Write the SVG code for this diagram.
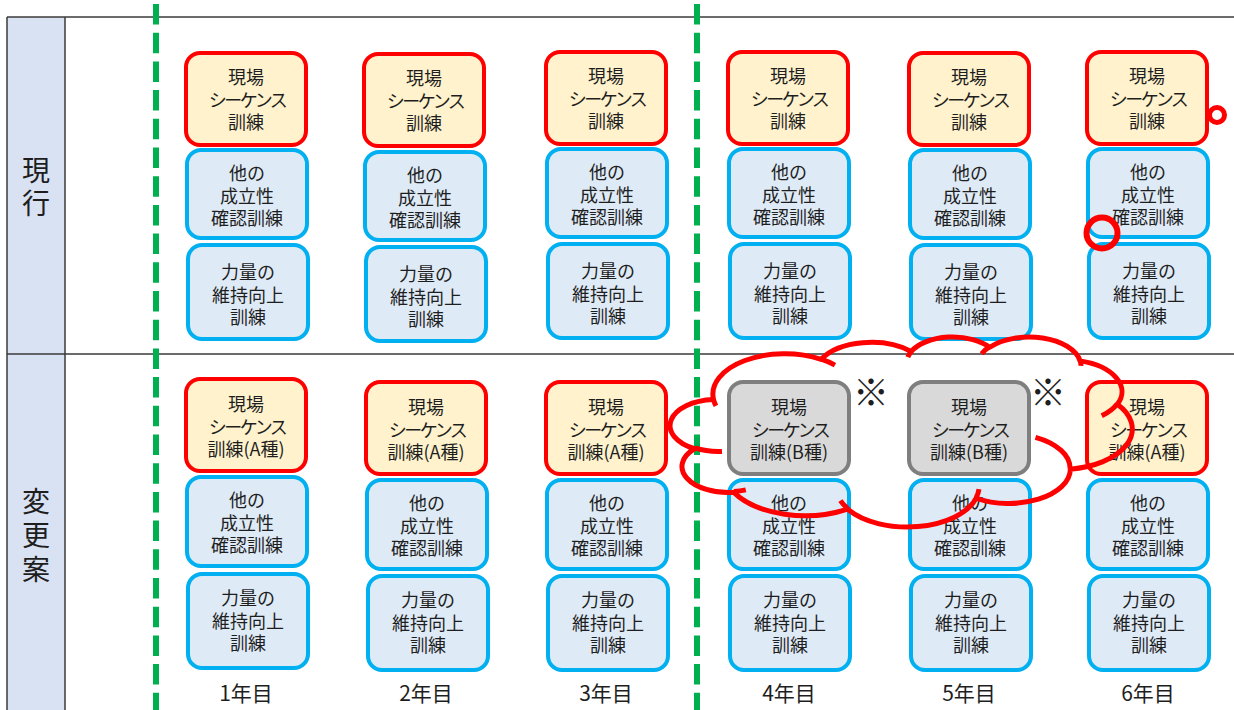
<svg xmlns="http://www.w3.org/2000/svg" width="1234" height="710" viewBox="0 0 1234 710">
<style>
.red{fill:#FFF2CC;stroke:#FF0000;stroke-width:4}
.blue{fill:#DEEBF7;stroke:#00B0F0;stroke-width:4}
.gray{fill:#D9D9D9;stroke:#7F7F7F;stroke-width:4}
.t{font-family:"Noto Sans CJK JP","Noto Sans CJK SC",sans-serif;font-size:18px;text-anchor:middle;fill:#1E1E1E}
.k{letter-spacing:-2.5px}
.h{font-family:"Noto Sans CJK JP","Noto Sans CJK SC",sans-serif;font-size:28px;fill:#1E1E1E;writing-mode:vertical-rl;text-anchor:start}
.y{font-family:"Noto Sans CJK JP","Noto Sans CJK SC",sans-serif;font-size:21px;text-anchor:middle;fill:#1E1E1E}
.m{font-family:"Noto Sans CJK JP","Noto Sans CJK SC",sans-serif;font-size:36px;text-anchor:middle;fill:#1E1E1E}
.grid{stroke:#3A3A3A;stroke-width:1.5;fill:none}
.dash{stroke:#00B050;stroke-width:6;stroke-dasharray:20.5 8.2;fill:none}
.cloud{fill:none;stroke:#FF0000;stroke-width:5;vector-effect:non-scaling-stroke;stroke-linejoin:round}
</style>
<defs>
<g id="seqTop"><rect class="red" width="120" height="92" rx="14"/><text class="t" y="31"><tspan x="60">現場</tspan><tspan class="k" x="61" dy="22.5">シーケンス</tspan><tspan x="60" dy="22.5">訓練</tspan></text></g>
<g id="otherBox"><rect class="blue" width="120" height="88" rx="14"/><text class="t" y="30"><tspan x="60">他の</tspan><tspan x="60" dy="22.5">成立性</tspan><tspan x="60" dy="22.5">確認訓練</tspan></text></g>
<g id="skillTop"><rect class="blue" width="120" height="94" rx="14"/><text class="t" y="34"><tspan x="60">力量の</tspan><tspan x="60" dy="22.5">維持向上</tspan><tspan x="60" dy="22.5">訓練</tspan></text></g>
<g id="seqA"><rect class="red" width="120" height="92" rx="14"/><text class="t" y="32"><tspan x="60">現場</tspan><tspan class="k" x="61" dy="22.5">シーケンス</tspan><tspan x="60" dy="22.5">訓練(A種)</tspan></text></g>
<g id="seqB"><rect class="gray" width="120" height="92" rx="14"/><text class="t" y="32"><tspan x="60">現場</tspan><tspan class="k" x="61" dy="22.5">シーケンス</tspan><tspan x="60" dy="22.5">訓練(B種)</tspan></text></g>
<g id="otherBot"><rect class="blue" width="120" height="89" rx="14"/><text class="t" y="30"><tspan x="60">他の</tspan><tspan x="60" dy="22.5">成立性</tspan><tspan x="60" dy="22.5">確認訓練</tspan></text></g>
<g id="skillBot"><rect class="blue" width="120" height="94" rx="14"/><text class="t" y="31"><tspan x="60">力量の</tspan><tspan x="60" dy="22.5">維持向上</tspan><tspan x="60" dy="22.5">訓練</tspan></text></g>
</defs>

<g id="table">
<rect x="7" y="17" width="58" height="700" fill="#D9E2F3"/>
<line class="grid" x1="7" y1="17" x2="1234" y2="17"/>
<line class="grid" x1="7" y1="354" x2="1234" y2="354"/>
<line class="grid" x1="7" y1="17" x2="7" y2="710"/>
<line class="grid" x1="65" y1="17" x2="65" y2="710"/>
<text class="h" x="36" y="156" style="letter-spacing:5px">現行</text>
<text class="h" x="36" y="487" style="letter-spacing:6px">変更案</text>
</g>

<g id="dividers">
<line class="dash" x1="156" y1="4" x2="156" y2="710"/>
<line class="dash" x1="697" y1="4" x2="697" y2="710"/>
</g>

<g id="current">
<g id="cur1">
<use id="cur1-seq" href="#seqTop" x="186" y="53"/>
<use id="cur1-other" href="#otherBox" x="187" y="150"/>
<use id="cur1-skill" href="#skillTop" x="188" y="245"/>
</g>
<g id="cur2">
<use id="cur2-seq" href="#seqTop" x="364" y="54"/>
<use id="cur2-other" href="#otherBox" x="365" y="152"/>
<use id="cur2-skill" href="#skillTop" x="366" y="247"/>
</g>
<g id="cur3">
<use id="cur3-seq" href="#seqTop" x="546" y="52"/>
<use id="cur3-other" href="#otherBox" x="547" y="149"/>
<use id="cur3-skill" href="#skillTop" x="548" y="244"/>
</g>
<g id="cur4">
<use id="cur4-seq" href="#seqTop" x="728" y="52"/>
<use id="cur4-other" href="#otherBox" x="729" y="149"/>
<use id="cur4-skill" href="#skillTop" x="730" y="244"/>
</g>
<g id="cur5">
<use id="cur5-seq" href="#seqTop" x="909" y="53"/>
<use id="cur5-other" href="#otherBox" x="910" y="150"/>
<use id="cur5-skill" href="#skillTop" x="911" y="245"/>
</g>
<g id="cur6">
<use id="cur6-seq" href="#seqTop" x="1087" y="52"/>
<use id="cur6-other" href="#otherBox" x="1088" y="149"/>
<use id="cur6-skill" href="#skillTop" x="1089" y="244"/>
</g>
</g>

<g id="proposal">
<g id="new1">
<use id="new1-seq" href="#seqA" x="186" y="379"/>
<use id="new1-other" href="#otherBot" x="187" y="477"/>
<use id="new1-skill" href="#skillBot" x="188" y="574"/>
</g>
<g id="new2">
<use id="new2-seq" href="#seqA" x="366" y="382"/>
<use id="new2-other" href="#otherBot" x="367" y="480"/>
<use id="new2-skill" href="#skillBot" x="368" y="576"/>
</g>
<g id="new3">
<use id="new3-seq" href="#seqA" x="546" y="382"/>
<use id="new3-other" href="#otherBot" x="547" y="480"/>
<use id="new3-skill" href="#skillBot" x="548" y="576"/>
</g>
<g id="new4">
<use id="new4-seq" href="#seqB" x="729" y="382"/>
<use id="new4-other" href="#otherBot" x="729" y="480"/>
<use id="new4-skill" href="#skillBot" x="730" y="576"/>
</g>
<g id="new5">
<use id="new5-seq" href="#seqB" x="909" y="382"/>
<use id="new5-other" href="#otherBot" x="910" y="480"/>
<use id="new5-skill" href="#skillBot" x="911" y="576"/>
</g>
<g id="new6">
<use id="new6-seq" href="#seqA" x="1087" y="382"/>
<use id="new6-other" href="#otherBot" x="1088" y="480"/>
<use id="new6-skill" href="#skillBot" x="1089" y="576"/>
</g>
<text id="note4" class="m" x="871" y="406">※</text>
<text id="note5" class="m" x="1048" y="406">※</text>
</g>

<g id="years">
<text class="y" x="246" y="701">1年目</text>
<text class="y" x="426" y="701">2年目</text>
<text class="y" x="606" y="701">3年目</text>
<text class="y" x="789" y="701">4年目</text>
<text class="y" x="969" y="701">5年目</text>
<text class="y" x="1148" y="701">6年目</text>
</g>

<g id="connectors"></g>

<g id="annotations">
<circle cx="1217" cy="115" r="7.5" fill="#FFFFFF" stroke="#FF0000" stroke-width="5"/>
<circle cx="1102" cy="233" r="15.5" fill="none" stroke="#FF0000" stroke-width="6"/>
<g id="cloud" transform="translate(672,336.4) scale(0.01065,0.004397)">
<path class="cloud" d="M3900,14370 A6753,9190 0 0,1 14005,5202 A5333,7267 0 0,1 22457,3429 A4365,5945 0 0,1 29833,2475 A4857,6595 0 0,1 38318,5570 A5333,7273 0 0,1 41818,15454 A6775,9220 0 0,1 37404,30197 A5785,7867 0 0,1 28555,36807 A6752,9215 0 0,1 16481,39262 A7720,10543 0 0,1 5807,35473 A4360,5918 0 0,1 2116,25550 A4345,5945 0 0,1 3900,14370 Z"/>
<path class="cloud" d="M4693,26177 A4345,5945 0 0,1 2159,25379 M6928,34899 A4360,5918 0 0,1 5819,35281 M16478,39090 A6752,9215 0 0,1 15809,37347 M28827,34751 A6752,9215 0 0,1 28560,36660 M34129,22954 A5785,7867 0 0,1 37381,30090 M41798,15354 A5333,7273 0 0,1 40350,18030 M38324,5426 A4857,6595 0 0,1 38400,6690 M29078,3952 A4857,6595 0 0,1 29820,2340 M22141,4720 A4365,5945 0 0,1 22500,3330 M14000,5192 A6753,9190 0 0,1 15300,6541 M4127,15789 A6753,9190 0 0,1 3900,14371"/>
</g>
</g>
</svg>
